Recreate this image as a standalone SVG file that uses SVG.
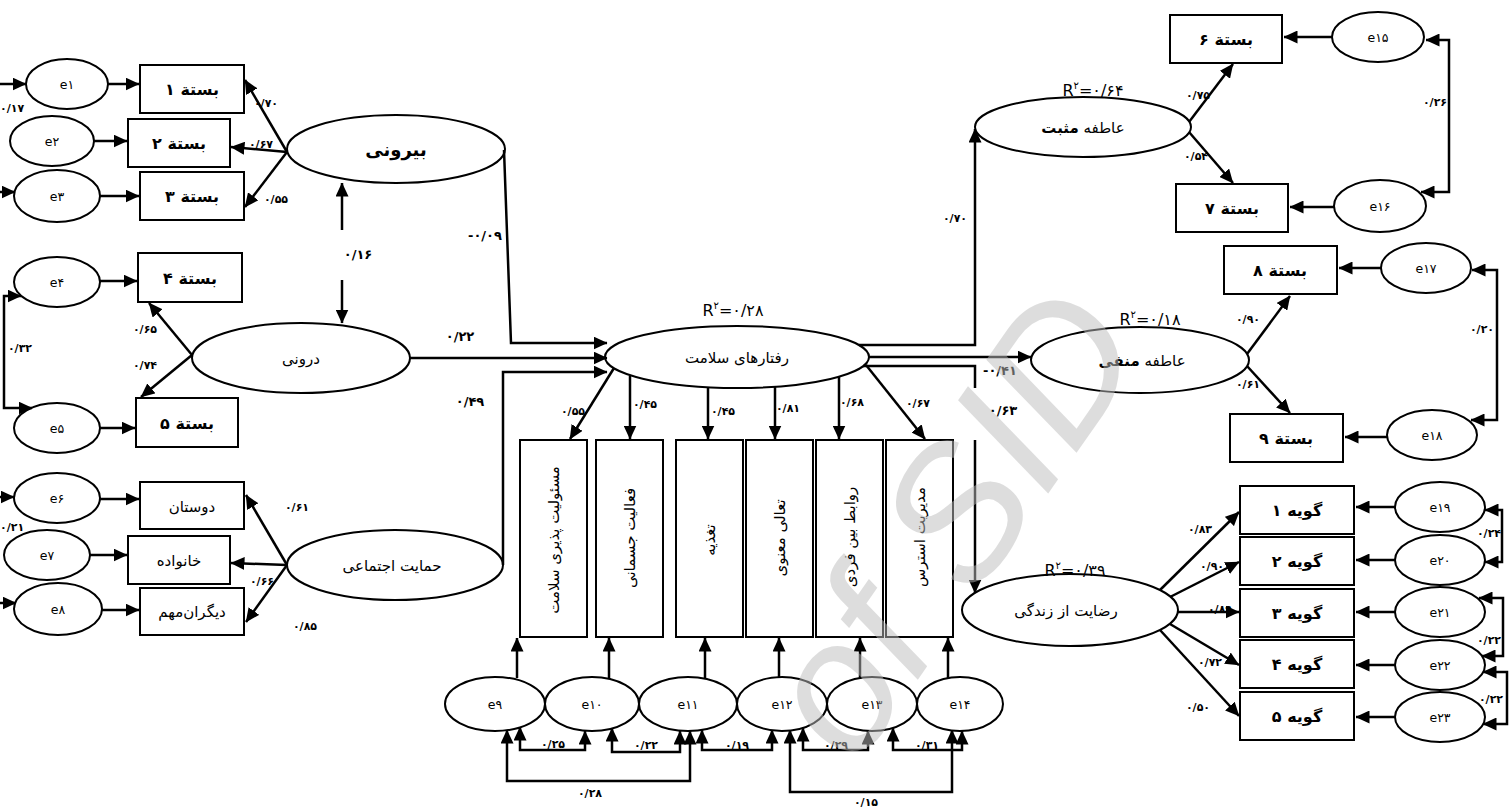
<svg xmlns="http://www.w3.org/2000/svg" width="1511" height="810" viewBox="0 0 1511 810">
<style>
.bg{fill:#fff}
.nd{fill:#fff;stroke:#000;stroke-width:2}
.ln{fill:none;stroke:#000;stroke-width:2.5}
.arr{marker-end:url(#a)}
.dbl{marker-start:url(#a);marker-end:url(#a)}
.t{font-family:"DejaVu Sans","Noto Sans",sans-serif;fill:#000;text-anchor:middle}
.bx{font-size:16px;font-weight:bold}
.bn{font-size:15px}
.el{font-size:15px}
.ev{font-size:12.5px}
.lb{font-size:11px;font-weight:bold}
.lg{font-size:13px;font-weight:bold}
.r2{font-size:16px}
.wm{font-family:"Liberation Sans",Arial,sans-serif;font-size:185px;font-style:italic;fill:#bdbdbd;opacity:.5;text-anchor:end}
</style>
<defs>
<marker id="a" markerUnits="userSpaceOnUse" markerWidth="14" markerHeight="13" viewBox="0 0 14 13" refX="13.5" refY="6.5" orient="auto-start-reverse"><path d="M0,0L14,6.5L0,13z" fill="#000"/></marker>
</defs>
<rect class="bg" x="0" y="0" width="1511" height="810"/>

<g id="nodes">
<g id="e1"><ellipse class="nd" cx="67" cy="84" rx="41" ry="25"/><text class="t ev" x="67" y="89">e۱</text></g>
<g id="e2"><ellipse class="nd" cx="52" cy="141" rx="42" ry="25"/><text class="t ev" x="52" y="146">e۲</text></g>
<g id="e3"><ellipse class="nd" cx="57" cy="196" rx="43" ry="26"/><text class="t ev" x="57" y="201">e۳</text></g>
<g id="e4"><ellipse class="nd" cx="57" cy="282" rx="43" ry="25"/><text class="t ev" x="57" y="287">e۴</text></g>
<g id="e5"><ellipse class="nd" cx="57" cy="428" rx="43" ry="25"/><text class="t ev" x="57" y="433">e۵</text></g>
<g id="e6"><ellipse class="nd" cx="57" cy="498" rx="43" ry="25"/><text class="t ev" x="57" y="503">e۶</text></g>
<g id="e7"><ellipse class="nd" cx="47" cy="555" rx="43" ry="25"/><text class="t ev" x="47" y="560">e۷</text></g>
<g id="e8"><ellipse class="nd" cx="58" cy="609" rx="44" ry="26"/><text class="t ev" x="58" y="614">e۸</text></g>

<g id="p1"><rect class="nd" x="140" y="65" width="104" height="48"/><text class="t bx" x="192" y="95">بستة ۱</text></g>
<g id="p2"><rect class="nd" x="128" y="119" width="102" height="48"/><text class="t bx" x="179" y="149">بستة ۲</text></g>
<g id="p3"><rect class="nd" x="140" y="172" width="104" height="48"/><text class="t bx" x="192" y="202">بستة ۳</text></g>
<g id="p4"><rect class="nd" x="138" y="253" width="104" height="49"/><text class="t bx" x="190" y="284">بستة ۴</text></g>
<g id="p5"><rect class="nd" x="136" y="398" width="102" height="49"/><text class="t bx" x="187" y="429">بستة ۵</text></g>
<g id="friends"><rect class="nd" x="140" y="482" width="104" height="47"/><text class="t bn" x="192" y="512">دوستان</text></g>
<g id="family"><rect class="nd" x="128" y="536" width="102" height="48"/><text class="t bn" x="179" y="566">خانواده</text></g>
<g id="others"><rect class="nd" x="140" y="588" width="104" height="47"/><text class="t bn" x="192" y="617">دیگران‌مهم</text></g>

<g id="external"><ellipse class="nd" cx="396" cy="149" rx="109" ry="34"/><text class="t" x="396" y="156" style="font-size:18px;font-weight:bold">بیرونی</text></g>
<g id="internal"><ellipse class="nd" cx="301" cy="358" rx="109" ry="35"/><text class="t el" x="301" y="364">درونی</text></g>
<g id="support"><ellipse class="nd" cx="395" cy="565" rx="108" ry="35"/><text class="t el" x="392" y="571">حمایت اجتماعی</text></g>
<g id="health"><ellipse class="nd" cx="737" cy="357" rx="132" ry="31"/><text class="t el" x="737" y="363">رفتارهای سلامت</text></g>

<g id="b1"><rect class="nd" x="520" y="440" width="67" height="197"/><text class="t bn" transform="translate(553.5,540) rotate(-90)" y="5">مسئولیت پذیری سلامت</text></g>
<g id="b2"><rect class="nd" x="596" y="440" width="67" height="197"/><text class="t bn" transform="translate(629.5,538) rotate(-90)" y="5">فعالیت جسمانی</text></g>
<g id="b3"><rect class="nd" x="676" y="440" width="67" height="197"/><text class="t bn" transform="translate(709.5,540) rotate(-90)" y="5">تغذیه</text></g>
<g id="b4"><rect class="nd" x="746" y="440" width="67" height="197"/><text class="t bn" transform="translate(779.5,538) rotate(-90)" y="5">تعالی معنوی</text></g>
<g id="b5"><rect class="nd" x="816" y="440" width="67" height="197"/><text class="t bn" transform="translate(849.5,537) rotate(-90)" y="5">روابط بین فردی</text></g>
<g id="b6"><rect class="nd" x="886" y="440" width="67" height="197"/><text class="t bn" transform="translate(919.5,537) rotate(-90)" y="5">مدیریت استرس</text></g>

<g id="e9"><ellipse class="nd" cx="495" cy="704" rx="50" ry="27"/><text class="t ev" x="495" y="709">e۹</text></g>
<g id="e10"><ellipse class="nd" cx="592" cy="704" rx="47" ry="27"/><text class="t ev" x="592" y="709">e۱۰</text></g>
<g id="e11"><ellipse class="nd" cx="688" cy="704" rx="49" ry="27"/><text class="t ev" x="688" y="709">e۱۱</text></g>
<g id="e12"><ellipse class="nd" cx="782" cy="704" rx="45" ry="27"/><text class="t ev" x="782" y="709">e۱۲</text></g>
<g id="e13"><ellipse class="nd" cx="872" cy="704" rx="45" ry="27"/><text class="t ev" x="872" y="709">e۱۳</text></g>
<g id="e14"><ellipse class="nd" cx="960" cy="704" rx="43" ry="27"/><text class="t ev" x="960" y="709">e۱۴</text></g>

<g id="positive"><ellipse class="nd" cx="1083" cy="127" rx="108" ry="30"/><text class="t el" x="1083" y="133">عاطفه <tspan font-weight="bold">مثبت</tspan></text></g>
<g id="negative"><ellipse class="nd" cx="1140" cy="360" rx="109" ry="33"/><text class="t el" x="1142" y="366">عاطفه <tspan font-weight="bold">منفی</tspan></text></g>
<g id="satisfaction"><ellipse class="nd" cx="1070" cy="610" rx="108" ry="36"/><text class="t el" x="1066" y="616">رضایت از زندگی</text></g>

<g id="p6"><rect class="nd" x="1170" y="15" width="112" height="48"/><text class="t bx" x="1226" y="45">بستة ۶</text></g>
<g id="p7"><rect class="nd" x="1176" y="184" width="112" height="48"/><text class="t bx" x="1232" y="214">بستة ۷</text></g>
<g id="p8"><rect class="nd" x="1224" y="246" width="113" height="48"/><text class="t bx" x="1280" y="276">بستة ۸</text></g>
<g id="p9"><rect class="nd" x="1230" y="414" width="113" height="48"/><text class="t bx" x="1286" y="444">بستة ۹</text></g>
<g id="e15"><ellipse class="nd" cx="1378" cy="37" rx="46" ry="25"/><text class="t ev" x="1378" y="42">e۱۵</text></g>
<g id="e16"><ellipse class="nd" cx="1380" cy="206" rx="46" ry="26"/><text class="t ev" x="1380" y="211">e۱۶</text></g>
<g id="e17"><ellipse class="nd" cx="1426" cy="268" rx="45" ry="25"/><text class="t ev" x="1426" y="273">e۱۷</text></g>
<g id="e18"><ellipse class="nd" cx="1432" cy="435" rx="45" ry="25"/><text class="t ev" x="1432" y="440">e۱۸</text></g>

<g id="g1"><rect class="nd" x="1240" y="486" width="114" height="48"/><text class="t bx" x="1297" y="516">گویه ۱</text></g>
<g id="g2"><rect class="nd" x="1240" y="537" width="114" height="48"/><text class="t bx" x="1297" y="567">گویه ۲</text></g>
<g id="g3"><rect class="nd" x="1240" y="589" width="114" height="48"/><text class="t bx" x="1297" y="619">گویه ۳</text></g>
<g id="g4"><rect class="nd" x="1240" y="640" width="114" height="48"/><text class="t bx" x="1297" y="670">گویه ۴</text></g>
<g id="g5"><rect class="nd" x="1240" y="692" width="114" height="48"/><text class="t bx" x="1297" y="722">گویه ۵</text></g>
<g id="e19"><ellipse class="nd" cx="1440" cy="507" rx="45" ry="25"/><text class="t ev" x="1440" y="512">e۱۹</text></g>
<g id="e20"><ellipse class="nd" cx="1440" cy="560" rx="45" ry="25"/><text class="t ev" x="1440" y="565">e۲۰</text></g>
<g id="e21"><ellipse class="nd" cx="1440" cy="612" rx="45" ry="25"/><text class="t ev" x="1440" y="617">e۲۱</text></g>
<g id="e22"><ellipse class="nd" cx="1440" cy="665" rx="45" ry="25"/><text class="t ev" x="1440" y="670">e۲۲</text></g>
<g id="e23"><ellipse class="nd" cx="1440" cy="717" rx="45" ry="25"/><text class="t ev" x="1440" y="722">e۲۳</text></g>
</g>

<g id="connectors">
<path class="ln arr" d="M0,84L26,84"/>
<path class="ln arr" d="M0,192L15,192"/>
<path class="ln arr" d="M0,497L14,497"/>
<path class="ln arr" d="M0,603L16,603"/>
<path class="ln arr" d="M108,84L139,84"/>
<path class="ln arr" d="M94,141L127,141"/>
<path class="ln arr" d="M100,196L139,196"/>
<path class="ln arr" d="M100,281L137,281"/>
<path class="ln arr" d="M100,428L135,428"/>
<path class="ln arr" d="M100,499L139,499"/>
<path class="ln arr" d="M90,555L127,555"/>
<path class="ln arr" d="M102,610L139,610"/>
<path class="ln dbl" d="M21,296L4,296L4,408L32,408"/>
<path class="ln arr" d="M287,152L245,80"/>
<path class="ln arr" d="M287,152L231,147"/>
<path class="ln arr" d="M287,152L245,207"/>
<path class="ln arr" d="M342,230L342,183"/>
<path class="ln arr" d="M342,280L342,323"/>
<path class="ln arr" d="M192,355L149,303"/>
<path class="ln arr" d="M192,355L141,397"/>
<path class="ln arr" d="M287,565L246,495"/>
<path class="ln arr" d="M287,565L231,563"/>
<path class="ln arr" d="M287,565L246,622"/>
<path class="ln arr" d="M504,150L511,343L607,343"/>
<path class="ln arr" d="M410,358L607,358"/>
<path class="ln arr" d="M503,565L503,372L607,372"/>
<path class="ln arr" d="M614,368L570,439"/>
<path class="ln arr" d="M630,376L630,439"/>
<path class="ln arr" d="M708,387L708,439"/>
<path class="ln arr" d="M775,387L775,439"/>
<path class="ln arr" d="M839,377L839,439"/>
<path class="ln arr" d="M866,365L925,439"/>
<path class="ln arr" d="M517,678L517,638"/>
<path class="ln arr" d="M609,679L609,638"/>
<path class="ln arr" d="M705,679L705,638"/>
<path class="ln arr" d="M779,677L779,638"/>
<path class="ln arr" d="M860,678L860,638"/>
<path class="ln arr" d="M948,679L948,638"/>
<path class="ln dbl" d="M520,727L520,750L585,750L585,731"/>
<path class="ln dbl" d="M612,728L612,752L680,752L680,731"/>
<path class="ln dbl" d="M702,730L702,750L772,750L772,730"/>
<path class="ln dbl" d="M803,728L803,750L868,750L868,731"/>
<path class="ln dbl" d="M893,728L893,750L962,750L962,731"/>
<path class="ln dbl" d="M507,730L507,781L690,781L690,731"/>
<path class="ln dbl" d="M790,730L790,792L952,792L952,730"/>
<path class="ln arr" d="M859,345L975,345L975,129"/>
<path class="ln arr" d="M869,357L1031,357"/>
<path class="ln" d="M863,366L975,366L975,388"/>
<path class="ln arr" d="M975,440L975,593"/>
<path class="ln arr" d="M1189,122L1233,64"/>
<path class="ln arr" d="M1189,132L1233,183"/>
<path class="ln arr" d="M1332,37L1284,37"/>
<path class="ln arr" d="M1334,207L1290,207"/>
<path class="ln dbl" d="M1426,40L1449,40L1449,192L1421,192"/>
<path class="ln arr" d="M1247,354L1290,296"/>
<path class="ln arr" d="M1247,366L1290,413"/>
<path class="ln arr" d="M1381,268L1339,268"/>
<path class="ln arr" d="M1387,437L1345,437"/>
<path class="ln dbl" d="M1472,270L1497,270L1497,420L1471,420"/>
<path class="ln arr" d="M1160,590L1239,512"/>
<path class="ln arr" d="M1170,597L1239,562"/>
<path class="ln arr" d="M1178,612L1239,612"/>
<path class="ln arr" d="M1170,624L1239,665"/>
<path class="ln arr" d="M1160,630L1239,716"/>
<path class="ln arr" d="M1395,507L1356,507"/>
<path class="ln arr" d="M1395,560L1356,560"/>
<path class="ln arr" d="M1395,612L1356,612"/>
<path class="ln arr" d="M1395,665L1356,665"/>
<path class="ln arr" d="M1395,717L1356,717"/>
<path class="ln dbl" d="M1485,510L1502,510L1502,562L1485,562"/>
<path class="ln dbl" d="M1479,598L1503,598L1503,656L1482,656"/>
<path class="ln dbl" d="M1483,672L1507,672L1507,724L1483,724"/>
</g>

<g id="labels">
<text class="t lb" x="0" y="112" style="text-anchor:start">۰/۱۷</text>
<text class="t lb" x="266" y="107">۰/۷۰</text>
<text class="t lb" x="261" y="148">۰/۶۷</text>
<text class="t lb" x="276" y="203">۰/۵۵</text>
<text class="t lg" x="358" y="259">۰/۱۶</text>
<text class="t lg" x="485" y="240">-۰/۰۹</text>
<text class="t lg" x="460" y="341">۰/۲۲</text>
<text class="t lg" x="470" y="406">۰/۴۹</text>
<text class="t lb" x="145" y="333">۰/۶۵</text>
<text class="t lb" x="145" y="369">۰/۷۴</text>
<text class="t lb" x="20" y="352">۰/۳۲</text>
<text class="t lb" x="297" y="511">۰/۶۱</text>
<text class="t lb" x="262" y="585">۰/۶۶</text>
<text class="t lb" x="305" y="630">۰/۸۵</text>
<text class="t lb" x="0" y="531" style="text-anchor:start">۰/۲۱</text>
<text class="t r2" x="733" y="316">R<tspan font-size="10" dy="-7">۲</tspan><tspan dy="7">=۰/۲۸</tspan></text>
<text class="t lb" x="573" y="415">۰/۵۵</text>
<text class="t lb" x="645" y="408">۰/۴۵</text>
<text class="t lb" x="723" y="415">۰/۴۵</text>
<text class="t lb" x="788" y="412">۰/۸۱</text>
<text class="t lb" x="852" y="406">۰/۶۸</text>
<text class="t lb" x="918" y="407">۰/۶۷</text>
<text class="t lb" x="553" y="748">۰/۲۵</text>
<text class="t lb" x="646" y="749">۰/۲۲</text>
<text class="t lb" x="737" y="749">۰/۱۹</text>
<text class="t lb" x="836" y="749">۰/۲۹</text>
<text class="t lb" x="927" y="749">۰/۳۱</text>
<text class="t lb" x="590" y="797">۰/۲۸</text>
<text class="t lb" x="866" y="806">۰/۱۵</text>
<text class="t lb" x="955" y="222">۰/۷۰</text>
<text class="t lg" x="1000" y="375">-۰/۴۱</text>
<text class="t lg" x="1003" y="415">۰/۶۳</text>
<text class="t r2" x="1093" y="96">R<tspan font-size="10" dy="-7">۲</tspan><tspan dy="7">=۰/۶۴</tspan></text>
<text class="t lb" x="1198" y="99">۰/۷۵</text>
<text class="t lb" x="1196" y="160">۰/۵۴</text>
<text class="t lb" x="1435" y="106">۰/۲۶</text>
<text class="t r2" x="1150" y="325">R<tspan font-size="10" dy="-7">۲</tspan><tspan dy="7">=۰/۱۸</tspan></text>
<text class="t lb" x="1248" y="323">۰/۹۰</text>
<text class="t lb" x="1248" y="388">۰/۶۱</text>
<text class="t lb" x="1482" y="333">۰/۲۰</text>
<text class="t r2" x="1075" y="576">R<tspan font-size="10" dy="-7">۲</tspan><tspan dy="7">=۰/۳۹</tspan></text>
<text class="t lb" x="1200" y="533">۰/۸۳</text>
<text class="t lb" x="1212" y="570">۰/۹۰</text>
<text class="t lb" x="1220" y="613">۰/۸۹</text>
<text class="t lb" x="1210" y="666">۰/۷۲</text>
<text class="t lb" x="1198" y="711">۰/۵۰</text>
<text class="t lb" x="1489" y="537">۰/۲۴</text>
<text class="t lb" x="1489" y="644">۰/۲۲</text>
<text class="t lb" x="1491" y="703">۰/۲۲</text>
</g>

<g id="watermark">
<text class="wm" transform="translate(1150,348) rotate(-55)">of SID</text>
</g>
</svg>
